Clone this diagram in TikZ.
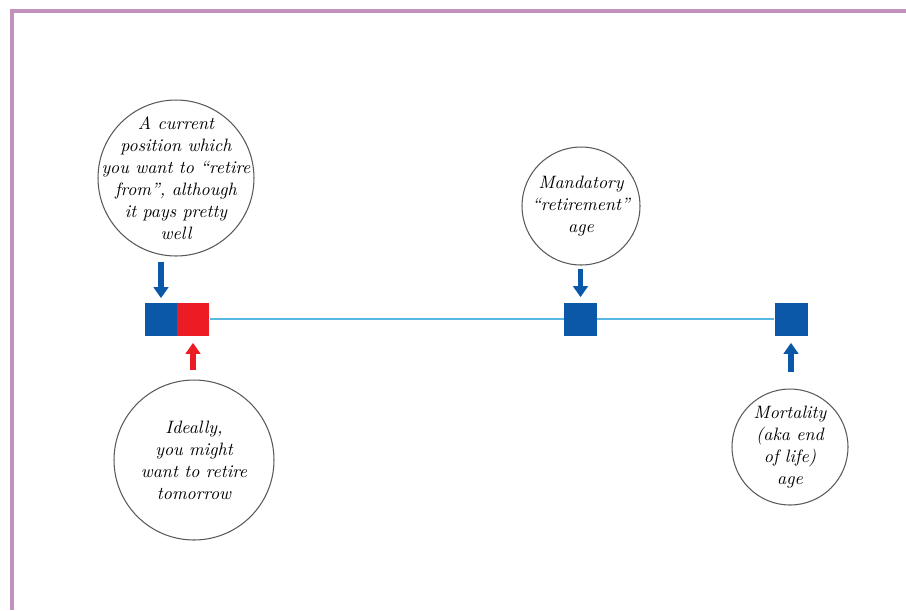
\documentclass[tikz,border=0pt]{standalone}
\usetikzlibrary{arrows.meta}

\definecolor{framepink}{RGB}{194,146,188}
\definecolor{markblue}{RGB}{12,88,168}
\definecolor{markred}{RGB}{236,28,36}
\definecolor{lineblue}{RGB}{88,184,226}

\begin{document}
\begin{tikzpicture}[x=0.02cm, y=-0.02cm,
    note/.style={circle, draw=black!65, line width=0.6pt, align=center, inner sep=-0.5cm,
                 font=\itshape\fontsize{10.2}{12.5}\selectfont},
    marker/.style={rectangle, minimum size=0.66cm, inner sep=0pt, fill=markblue},
    pointer/.style={-{Triangle[width=0.29cm,length=0.22cm]}, line width=3pt, markblue}]
    \useasboundingbox (0,0) rectangle (906,610);

    % frame
    \draw[framepink, line width=2.4pt] (12,610) -- (12,11) -- (906,11);

    % timeline marks
    \node[marker] (nowsq) at (161,319) {};
    \node[marker, fill=markred] (tomsq) at (193,319) {};
    \node[marker] (mandsq) at (580.5,319) {};
    \node[marker] (endsq) at (791,319) {};

    \draw[lineblue, line width=1.1pt] (tomsq.east) -- (mandsq.west);
    \draw[lineblue, line width=1.1pt] (mandsq.east) -- (endsq.west);

    % notes
    \node[note, minimum size=3.12cm] (current) at (176,178)
        {A current\\position which\\you want to ``retire\\from'', although\\it pays pretty\\well};
    \node[note, minimum size=3.2cm] (ideal) at (194,460)
        {Ideally,\\you might\\want to retire\\tomorrow};
    \node[note, minimum size=2.36cm] (mandatory) at (581,206)
        {Mandatory\\``retirement''\\age};
    \node[note, minimum size=2.32cm] (mortality) at (790,447)
        {Mortality\\(aka end\\of life)\\age};

    % pointers
    \draw[pointer, shorten <=0.1cm, shorten >=0.08cm] (nowsq.north |- current.south) -- (nowsq.north);
    \draw[pointer, markred, shorten <=0.2cm, shorten >=0.14cm] (tomsq.south |- ideal.north) -- (tomsq.south);
    \draw[pointer, shorten <=0.06cm, shorten >=0.1cm] (mandsq.north |- mandatory.south) -- (mandsq.north);
    \draw[pointer, shorten <=0.34cm, shorten >=0.14cm] (endsq.south |- mortality.north) -- (endsq.south);
\end{tikzpicture}
\end{document}
